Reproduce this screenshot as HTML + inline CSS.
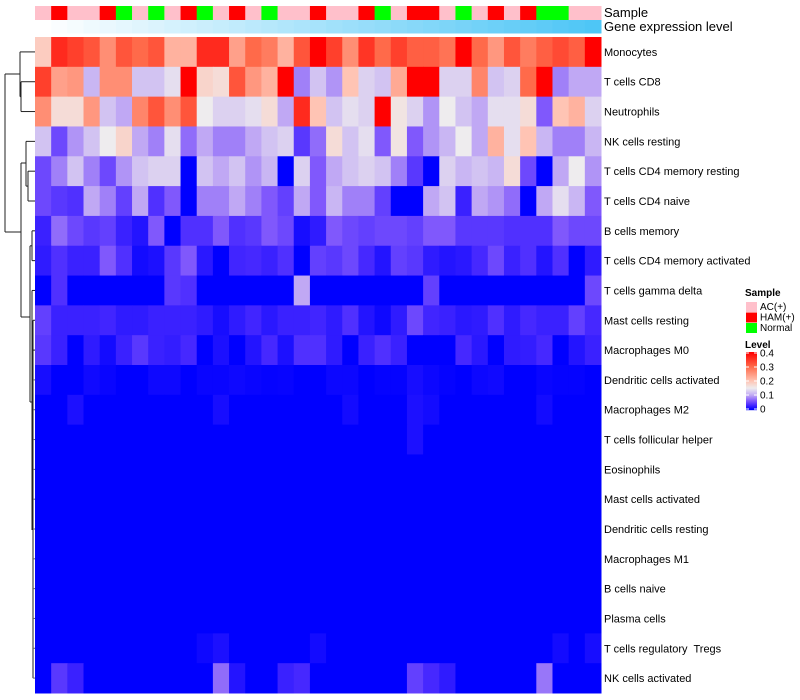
<!DOCTYPE html>
<html><head><meta charset="utf-8">
<style>
html,body{margin:0;padding:0;background:#fff;}
svg{display:block;font-family:"Liberation Sans",sans-serif;}
svg text{white-space:pre;}
</style></head>
<body>
<svg id="chart" width="800" height="700" viewBox="0 0 800 700"></svg>
<script>
const rowNames = ["Monocytes","T cells CD8","Neutrophils","NK cells resting","T cells CD4 memory resting","T cells CD4 naive","B cells memory","T cells CD4 memory activated","T cells gamma delta","Mast cells resting","Macrophages M0","Dendritic cells activated","Macrophages M2","T cells follicular helper","Eosinophils","Mast cells activated","Dendritic cells resting","Macrophages M1","B cells naive","Plasma cells","T cells regulatory  Tregs","NK cells activated"];
const sampleGroups = ["P","R","P","P","R","G","P","G","P","R","G","P","R","P","G","P","P","R","P","P","R","G","P","R","R","P","G","P","R","P","R","G","G","P","P"];
const geneLevel = [0,1,2,3,4,5,6,7,8,9,10,11,12,13,14,15,16,17,18,19,20,21,22,23,24,25,26,27,28,29,30,31,32,33,34];
const r0 = [0.19,0.36,0.34,0.32,0.26,0.32,0.3,0.32,0.22,0.22,0.36,0.36,0.24,0.3,0.28,0.22,0.32,0.4,0.34,0.26,0.35,0.3,0.34,0.31,0.31,0.29,0.4,0.3,0.25,0.32,0.28,0.31,0.33,0.31,0.4];
const r1 = [0.34,0.24,0.25,0.11,0.26,0.26,0.12,0.12,0.14,0.4,0.18,0.17,0.32,0.25,0.22,0.4,0.08,0.12,0.09,0.2,0.13,0.12,0.23,0.4,0.4,0.13,0.13,0.27,0.12,0.13,0.3,0.4,0.08,0.1,0.1];
const r2 = [0.26,0.17,0.17,0.25,0.12,0.1,0.27,0.32,0.26,0.32,0.15,0.13,0.13,0.14,0.17,0.1,0.36,0.2,0.12,0.14,0.13,0.4,0.16,0.13,0.09,0.15,0.12,0.1,0.14,0.14,0.17,0.06,0.2,0.22,0.13];
const r3 = [0.12,0.05,0.09,0.12,0.15,0.18,0.1,0.08,0.14,0.07,0.1,0.08,0.08,0.1,0.12,0.13,0.04,0.07,0.17,0.12,0.14,0.06,0.16,0.06,0.09,0.11,0.15,0.1,0.22,0.14,0.2,0.11,0.08,0.08,0.11];
const r4 = [0.05,0.08,0.12,0.08,0.05,0.09,0.12,0.13,0.13,0,0.12,0.1,0.12,0.09,0.11,0,0.13,0.06,0.1,0.12,0.13,0.12,0.08,0.04,0,0.13,0.11,0.12,0.11,0.17,0.05,0,0.1,0.15,0.09];
const r5 = [0.05,0.04,0.035,0.1,0.08,0.045,0.1,0.035,0.06,0,0.08,0.08,0.1,0.08,0.06,0.045,0.1,0.06,0.11,0.08,0.08,0.045,0,0,0.1,0.12,0.025,0.1,0.09,0.07,0,0.1,0.14,0.11,0.06];
const r6 = [0.025,0.07,0.05,0.04,0.045,0.025,0.015,0.06,0,0.035,0.035,0.06,0.035,0.04,0.06,0.05,0.01,0.02,0.06,0.05,0.045,0.05,0.05,0.045,0.06,0.06,0.04,0.04,0.04,0.035,0.035,0.035,0.06,0.05,0.05];
const r7 = [0.02,0.035,0.025,0.025,0.06,0.035,0.008,0.012,0.04,0.06,0.018,0,0.028,0.03,0.025,0.035,0,0.045,0.04,0.05,0.03,0.015,0.045,0.04,0.02,0.015,0.018,0.03,0.05,0.025,0.035,0.015,0.035,0,0.02];
const r8 = [0,0.035,0,0,0,0,0,0,0.04,0.035,0,0,0,0,0,0,0.1,0,0,0,0,0,0,0,0.045,0,0,0,0,0,0,0,0,0,0.05];
const r9 = [0.045,0.025,0.025,0.025,0.028,0.02,0.02,0.025,0.025,0.025,0.02,0.01,0.02,0.028,0.018,0.025,0.025,0.028,0.02,0.035,0.015,0.006,0.02,0.05,0.028,0.025,0.018,0.02,0.035,0.02,0.03,0.025,0.025,0.045,0.03];
const r10 = [0.04,0.025,0,0.02,0.008,0.025,0.04,0.025,0.022,0.03,0,0.012,0,0.015,0.03,0.012,0.035,0.035,0.02,0,0.025,0.035,0.025,0,0,0,0.03,0.018,0,0.02,0.022,0.03,0,0.015,0.025];
const r11 = [0.01,0,0,0.007,0.004,0,0,0.006,0.006,0,0.004,0.004,0.006,0.004,0.002,0.003,0,0,0.005,0.005,0,0.002,0.002,0.01,0.005,0.002,0,0.005,0.007,0,0,0.004,0.002,0.002,0];
const r12 = [0,0,0.012,0,0,0,0,0,0,0,0,0.01,0,0,0,0,0,0,0,0.008,0,0,0,0.012,0.008,0,0,0,0,0,0,0.008,0,0,0];
const r13 = [0,0,0,0,0,0,0,0,0,0,0,0,0,0,0,0,0,0,0,0,0,0,0,0.012,0,0,0,0,0,0,0,0,0,0,0];
const r14 = [0,0,0,0,0,0,0,0,0,0,0,0,0,0,0,0,0,0,0,0,0,0,0,0,0,0,0,0,0,0,0,0,0,0,0];
const r15 = [0,0,0,0,0,0,0,0,0,0,0,0,0,0,0,0,0,0,0,0,0,0,0,0,0,0,0,0,0,0,0,0,0,0,0];
const r16 = [0,0,0,0,0,0,0,0,0,0,0,0,0,0,0,0,0,0,0,0,0,0,0,0,0,0,0,0,0,0,0,0,0,0,0];
const r17 = [0,0,0,0,0,0,0,0,0,0,0,0,0,0,0,0,0,0,0,0,0,0,0,0,0,0,0,0,0,0,0,0,0,0,0];
const r18 = [0,0,0,0,0,0,0,0,0,0,0,0,0,0,0,0,0,0,0,0,0,0,0,0,0,0,0,0,0,0,0,0,0,0,0];
const r19 = [0,0,0,0,0,0,0,0,0,0,0,0,0,0,0,0,0,0,0,0,0,0,0,0,0,0,0,0,0,0,0,0,0,0,0];
const r20 = [0,0,0,0,0,0,0,0,0,0,0.006,0.012,0,0,0,0,0,0.008,0,0,0,0,0,0,0,0,0,0,0,0,0,0,0.008,0,0.01];
const r21 = [0,0.04,0.025,0,0,0,0,0,0,0,0,0.07,0.015,0,0,0.025,0.03,0,0,0,0,0,0,0.045,0.03,0.02,0,0,0,0,0,0.075,0,0,0];
const matrix = [r0,r1,r2,r3,r4,r5,r6,r7,r8,r9,r10,r11,r12,r13,r14,r15,r16,r17,r18,r19,r20,r21];
const legendTicks = [0,0.1,0.2,0.3,0.4];

const NS = "http://www.w3.org/2000/svg";
const svg = document.getElementById('chart');
function mk(tag, attrs, parent){const e=document.createElementNS(NS,tag);for(const k in attrs)e.setAttribute(k,attrs[k]);(parent||svg).appendChild(e);return e;}

const X0=35, X1=601, Y0=37, Y1=693;
const nCol = geneLevel.length, nRow = rowNames.length;
const cw=(X1-X0)/nCol, rh=(Y1-Y0)/nRow;
function xPos(j){return X0+j*cw;}
function yPos(i){return Y0+i*rh;}

const stops=[[0,[0,0,255]],[0.03,[70,40,255]],[0.06,[128,88,252]],[0.1,[192,168,244]],[0.15,[238,236,238]],[0.2,[255,196,180]],[0.3,[255,106,74]],[0.4,[255,0,0]]];
function color(v){
  v=Math.max(0,Math.min(0.4,v));
  for(let k=1;k<stops.length;k++){
    if(v<=stops[k][0]){const a=stops[k-1],b=stops[k];const t=(v-a[0])/(b[0]-a[0]);
      const c=a[1].map((x,i)=>Math.round(x+(b[1][i]-x)*t));return `rgb(${c[0]},${c[1]},${c[2]})`;}
  }
  return 'rgb(255,0,0)';
}
const groupColor={P:'#ffc0cb',R:'#ff0000',G:'#00ff00'};

for(let j=0;j<nCol;j++){
  const s=mk('rect',{x:xPos(j),y:6,width:cw+0.5,height:14,fill:groupColor[sampleGroups[j]]});
  
  
  const t=geneLevel[j]/34;
  const c=[255+(78-255)*t,255+(198-255)*t,255+(246-255)*t].map(Math.round);
  const g=mk('rect',{x:xPos(j),y:20,width:cw+0.5,height:13.5,fill:`rgb(${c[0]},${c[1]},${c[2]})`});
  
  
}
let t1=mk('text',{x:604,y:17,'font-size':13,fill:'#000'});t1.textContent='Sample';


let t2=mk('text',{x:604,y:31,'font-size':13,fill:'#000'});t2.textContent='Gene expression level';



for(let i=0;i<nRow;i++){
  for(let j=0;j<nCol;j++){
    const r=mk('rect',{x:xPos(j),y:yPos(i),width:cw+0.5,height:rh+0.5,fill:color(matrix[i][j])});
    
    
  }
  const l=mk('text',{x:604,y:yPos(i)+rh/2+4,'font-size':11,fill:'#000'});
  l.textContent=rowNames[i];
  
  
}

const cy=i=>yPos(i)+rh/2;
const dg=mk('g',{stroke:'#222','stroke-width':1,fill:'none'});


const segs=[
 [21,cy(1),35,cy(1)],[21,cy(2),35,cy(2)],[21,cy(1),21,cy(2)],
 [20,cy(0),35,cy(0)],[20,cy(0),20,(cy(1)+cy(2))/2],[20,(cy(1)+cy(2))/2,21,(cy(1)+cy(2))/2],
 [5,74,20,74],[5,74,5,232],[5,232,21,232],
 [28,cy(4),35,cy(4)],[28,cy(5),35,cy(5)],[28,cy(4),28,cy(5)],
 [26,cy(3),35,cy(3)],[26,cy(3),26,(cy(4)+cy(5))/2],[26,(cy(4)+cy(5))/2,28,(cy(4)+cy(5))/2],
 [21,163,26,163],[21,163,21,317],[21,317,30,317],
 [32,cy(6),35,cy(6)],[32,cy(7),35,cy(7)],[32,cy(6),32,cy(7)],
 [30,cy(6)+15,32,cy(6)+15],[30,cy(6)+15,30,402],[30,402,32,402],
 [32,cy(8),35,cy(8)],[32,cy(8),32,530],[33,cy(9),35,cy(9)],[33,cy(10),35,cy(10)],
 [33,cy(9),33,cy(21)]
];
for(const s of segs){mk('line',{x1:s[0],y1:s[1],x2:s[2],y2:s[3]},dg);}
for(let i=11;i<nRow;i++){mk('line',{x1:33,y1:cy(i),x2:35,y2:cy(i),stroke:'#666'},dg);}

let lg=mk('g',{});


let ls=mk('text',{x:745,y:296,'font-size':10,'font-weight':'bold'},lg);ls.textContent='Sample';
const groups=[['AC(+)','P'],['HAM(+)','R'],['Normal','G']];
groups.forEach((g,k)=>{
  const r=mk('rect',{x:746,y:302+k*10.5,width:11,height:10,fill:groupColor[g[1]]},lg);
  
  
  const t=mk('text',{x:760,y:310+k*10.5,'font-size':10},lg);t.textContent=g[0];
  
  
});
let lv=mk('text',{x:745,y:348,'font-size':10,'font-weight':'bold'},lg);lv.textContent='Level';
const barTop=352, barBot=410;
for(let k=0;k<58;k++){
  const v=0.4*(1-k/57);
  mk('rect',{x:746,y:barTop+k,width:11,height:1.2,fill:color(v)},lg);
}
legendTicks.forEach(v=>{
  const y=barBot-(v/0.4)*(barBot-barTop-2)-1;
  mk('line',{x1:746,y1:y,x2:749,y2:y,stroke:'#fff'},lg);
  mk('line',{x1:754,y1:y,x2:757,y2:y,stroke:'#fff'},lg);
  const t=mk('text',{x:760,y:y+3.5,'font-size':10},lg);t.textContent=String(v);
  
  
});
</script>
</body></html>
